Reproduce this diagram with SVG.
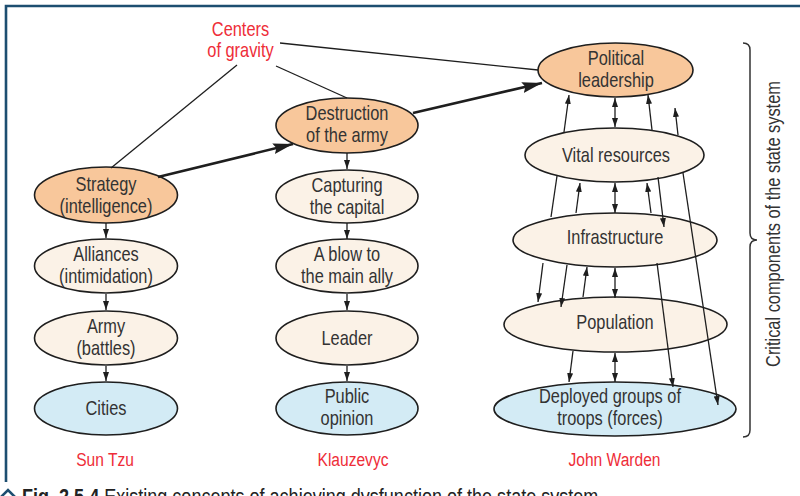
<svg xmlns="http://www.w3.org/2000/svg" width="800" height="496" viewBox="0 0 800 496">
  <style>
    text { font-family: "Liberation Sans", Arial, sans-serif; }
    /* narrow lettering: x positions are given in the compressed frame (x / 0.82) */
    .sq { transform: scale(0.82, 1); }
    .node ellipse { stroke: #1e1e1e; stroke-width: 1.6; }
    .key ellipse { fill: #f8c79b; }
    .mid ellipse { fill: #fbf2e7; }
    .base ellipse { fill: #d3ebf5; }
    .node text { font-size: 20px; fill: #333333; text-anchor: middle; }
    .red { font-size: 19px; fill: #ee2d38; text-anchor: middle; }
    .thin { stroke: #1e1e1e; stroke-width: 1.3; fill: none; }
    .thick { stroke: #1e1e1e; stroke-width: 2.6; fill: none; }
    .arr { marker-end: url(#head); }
    .both { marker-start: url(#head); marker-end: url(#head); }
    .big { marker-end: url(#bighead); }
  </style>
  <defs>
    <marker id="head" markerUnits="userSpaceOnUse" markerWidth="10" markerHeight="7" refX="9" refY="3" orient="auto-start-reverse">
      <path d="M0,0 L9,3 L0,6 z" fill="#1e1e1e"/>
    </marker>
    <marker id="bighead" markerUnits="userSpaceOnUse" markerWidth="22" markerHeight="12" refX="20" refY="5.5" orient="auto">
      <path d="M0,0 L20,5.5 L0,11 L3,5.5 z" fill="#1e1e1e"/>
    </marker>
  </defs>

  <!-- frame -->
  <path d="M6,482 L6,6 L800,6" fill="none" stroke="#1d4e70" stroke-width="2.6"/>

  <!-- Sun Tzu column -->
  <g id="strategy" class="node key">
    <ellipse cx="106" cy="195" rx="71.5" ry="28"/>
    <text class="sq" x="129.27" y="191">Strategy</text>
    <text class="sq" x="129.27" y="213">(intelligence)</text>
  </g>
  <g id="alliances" class="node mid">
    <ellipse cx="106" cy="266" rx="71.5" ry="27"/>
    <text class="sq" x="129.27" y="261">Alliances</text>
    <text class="sq" x="129.27" y="283">(intimidation)</text>
  </g>
  <g id="army" class="node mid">
    <ellipse cx="106" cy="338" rx="71.5" ry="27"/>
    <text class="sq" x="129.27" y="333">Army</text>
    <text class="sq" x="129.27" y="355">(battles)</text>
  </g>
  <g id="cities" class="node base">
    <ellipse cx="106" cy="408.5" rx="71.5" ry="26.5"/>
    <text class="sq" x="129.27" y="415">Cities</text>
  </g>

  <!-- Klauzevyc column -->
  <g id="destruction" class="node key">
    <ellipse cx="347" cy="125.5" rx="71" ry="27.5"/>
    <text class="sq" x="423.17" y="120">Destruction</text>
    <text class="sq" x="423.17" y="142">of the army</text>
  </g>
  <g id="capital" class="node mid">
    <ellipse cx="347" cy="196.5" rx="71" ry="26.5"/>
    <text class="sq" x="423.17" y="192">Capturing</text>
    <text class="sq" x="423.17" y="214">the capital</text>
  </g>
  <g id="ally" class="node mid">
    <ellipse cx="347" cy="266" rx="71" ry="27"/>
    <text class="sq" x="423.17" y="261">A blow to</text>
    <text class="sq" x="423.17" y="283">the main ally</text>
  </g>
  <g id="leader" class="node mid">
    <ellipse cx="347" cy="338" rx="71" ry="27"/>
    <text class="sq" x="423.17" y="345">Leader</text>
  </g>
  <g id="opinion" class="node base">
    <ellipse cx="347" cy="408.5" rx="71" ry="26.5"/>
    <text class="sq" x="423.17" y="403">Public</text>
    <text class="sq" x="423.17" y="425">opinion</text>
  </g>

  <!-- John Warden column -->
  <g id="political" class="node key">
    <ellipse cx="615.5" cy="70" rx="77.5" ry="27"/>
    <text class="sq" x="751.22" y="65">Political</text>
    <text class="sq" x="751.22" y="87">leadership</text>
  </g>
  <g id="vital" class="node mid">
    <ellipse cx="614.5" cy="155" rx="89.5" ry="27"/>
    <text class="sq" x="751.22" y="162">Vital resources</text>
  </g>
  <g id="infrastructure" class="node mid">
    <ellipse cx="615" cy="240" rx="102" ry="27"/>
    <text class="sq" x="750" y="244">Infrastructure</text>
  </g>
  <g id="population" class="node mid">
    <ellipse cx="615.5" cy="324.5" rx="111.5" ry="27.5"/>
    <text class="sq" x="750" y="329">Population</text>
  </g>
  <g id="troops" class="node base">
    <ellipse cx="615" cy="409" rx="121" ry="27"/>
    <text class="sq" x="743.9" y="403">Deployed groups of</text>
    <text class="sq" x="743.9" y="425">troops (forces)</text>
  </g>

  <!-- connectors -->
  <g id="connectors">
    <!-- Sun Tzu chain -->
    <line class="thin arr" x1="106" y1="223" x2="106" y2="238"/>
    <line class="thin arr" x1="106" y1="294" x2="106" y2="310"/>
    <line class="thin arr" x1="106" y1="366" x2="106" y2="381"/>
    <!-- Klauzevyc chain -->
    <line class="thin arr" x1="347" y1="153" x2="347" y2="169"/>
    <line class="thin arr" x1="347" y1="223" x2="347" y2="239"/>
    <line class="thin arr" x1="347" y1="294" x2="347" y2="310"/>
    <line class="thin arr" x1="347" y1="366" x2="347" y2="381"/>
    <!-- centers of gravity -->
    <line class="thin" x1="237" y1="65" x2="111" y2="168"/>
    <line class="thin" x1="276" y1="66" x2="347" y2="98"/>
    <line class="thin" x1="280" y1="43" x2="538" y2="70"/>
    <!-- progression between schools -->
    <line class="thick big" x1="158" y1="177" x2="293" y2="144"/>
    <line class="thick big" x1="413" y1="113" x2="542" y2="83"/>
    <!-- Warden rings: leadership / vital resources -->
    <line class="thin arr" x1="564" y1="132" x2="569" y2="95"/>
    <line class="thin both" x1="615" y1="98" x2="615" y2="127"/>
    <line class="thin arr" x1="652" y1="130" x2="648" y2="95"/>
    <line class="thin arr" x1="678" y1="135" x2="675" y2="108"/>
    <!-- vital resources / infrastructure -->
    <line class="thin" x1="557" y1="176" x2="551" y2="217"/>
    <line class="thin arr" x1="576" y1="213" x2="580" y2="183"/>
    <line class="thin both" x1="615" y1="183" x2="615" y2="213"/>
    <line class="thin arr" x1="651" y1="213" x2="647" y2="183"/>
    <line class="thin arr" x1="658" y1="177" x2="664" y2="227"/>
    <line class="thin arr" x1="683" y1="173" x2="718" y2="405"/>
    <!-- infrastructure / population -->
    <line class="thin arr" x1="543" y1="263" x2="538" y2="302"/>
    <line class="thin arr" x1="567" y1="265" x2="561" y2="307"/>
    <line class="thin arr" x1="583" y1="297" x2="587" y2="267"/>
    <line class="thin both" x1="615" y1="268" x2="615" y2="298"/>
    <line class="thin arr" x1="657" y1="263" x2="673" y2="387"/>
    <!-- population / troops -->
    <line class="thin arr" x1="573" y1="351" x2="569" y2="382"/>
    <line class="thin both" x1="615" y1="353" x2="615" y2="382"/>
  </g>

  <!-- annotations -->
  <text class="red sq" x="293.29" y="36" style="font-size:20px">Centers</text>
  <text class="red sq" x="293.29" y="57" style="font-size:20px">of gravity</text>
  <text class="red sq" x="128.05" y="466">Sun Tzu</text>
  <text class="red sq" x="430.49" y="466">Klauzevyc</text>
  <text class="red sq" x="749.39" y="466">John Warden</text>

  <!-- brace and side label -->
  <path d="M743,43 Q750,43 750,50 L750,233 Q750,240 757,240 Q750,240 750,247 L750,430 Q750,437 743,437" fill="none" stroke="#333333" stroke-width="1.5"/>
  <text transform="translate(780,224) rotate(-90) scale(0.82,1)" style="font-size:20px; fill:#333333; text-anchor:middle">Critical components of the state system</text>

  <!-- caption -->
  <path d="M1,497 L8,490 L15,497" fill="none" stroke="#1d4e70" stroke-width="2.6"/>
  <text class="sq" x="26.83" y="504" style="font-size:22px; fill:#222222"><tspan font-weight="bold">Fig. 2.5.4</tspan> Existing concepts of achieving dysfunction of the state system</text>
</svg>
